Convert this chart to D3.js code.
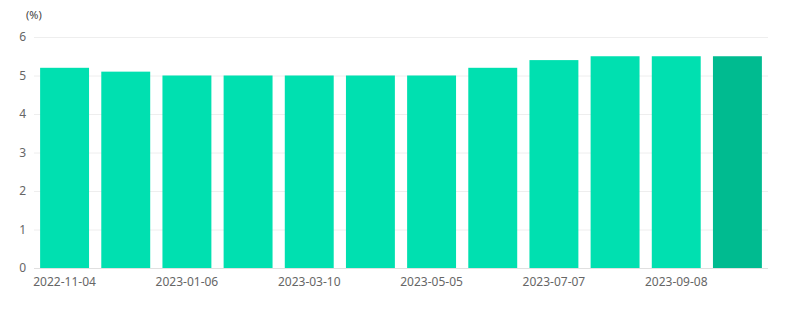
<!DOCTYPE html>
<html>
<head>
<meta charset="utf-8">
<script src="https://cdn.jsdelivr.net/npm/d3@7"></script>
<style>
  body { margin: 0; background: #fff; }
  text { font-family: "Noto Sans", "Open Sans", sans-serif; }
</style>
</head>
<body>
<div id="chart"></div>
<script>
// chart size & margins
var width = 795;
var height = 321;
var margin = { top: 37, right: 27, bottom: 53, left: 34 };

// data
var dates = ['2022-11-04', '2022-12-02', '2023-01-06', '2023-02-03', '2023-03-10', '2023-04-06',
             '2023-05-05', '2023-06-02', '2023-07-07', '2023-08-04', '2023-09-08', '2023-10-06'];
var rates = [5.2, 5.1, 5.0, 5.0, 5.0, 5.0, 5.0, 5.2, 5.4, 5.5, 5.5, 5.5];
var yTicks = [0, 1, 2, 3, 4, 5, 6];
var unitLabel = '(%)';

var barColor = '#00e0b0';
var lastColor = '#00bb90';

var svg = d3.select('#chart')
  .append('svg')
  .attr('width', width)
  .attr('height', height);

var x = d3.scaleBand()
  .domain(dates)
  .range([margin.left, width - margin.right])
  .paddingInner(0.2)
  .paddingOuter(0.1);

var y = d3.scaleLinear()
  .domain([0, 6])
  .range([height - margin.bottom, margin.top]);

// grid lines
svg.append('g')
  .selectAll('line')
  .data(yTicks.slice(1))
  .enter()
  .append('line')
    .attr('x1', margin.left)
    .attr('x2', width - margin.right)
    .attr('y1', function(d) { return y(d) + 0.5; })
    .attr('y2', function(d) { return y(d) + 0.5; })
    .attr('stroke', '#eeeeee')
    .attr('stroke-width', 1);

// y axis labels
svg.append('g')
  .selectAll('text')
  .data(yTicks)
  .enter()
  .append('text')
    .attr('x', margin.left - 8)
    .attr('y', function(d) { return y(d); })
    .attr('dy', '0.35em')
    .attr('text-anchor', 'end')
    .attr('font-size', '12px')
    .attr('fill', '#666')
    .text(function(d) { return d; });

svg.append('text')
  .attr('x', 26)
  .attr('y', 19)
  .attr('font-size', '11px')
  .attr('fill', '#444')
  .text(unitLabel);

// bars
svg.append('g')
  .selectAll('rect')
  .data(rates)
  .enter()
  .append('rect')
    .attr('x', function(d, i) { return x(dates[i]); })
    .attr('width', x.bandwidth())
    .attr('y', function(d) { return y(d); })
    .attr('height', function(d) { return y(0) - y(d); })
    .attr('fill', function(d, i) { return i === rates.length - 1 ? lastColor : barColor; });

// bottom axis line
svg.append('line')
  .attr('x1', margin.left)
  .attr('x2', width - margin.right)
  .attr('y1', y(0) + 0.5)
  .attr('y2', y(0) + 0.5)
  .attr('stroke', '#e0e0e0');

// x labels, every other date
svg.append('g')
  .selectAll('text')
  .data(dates.filter(function(d, i) { return i % 2 === 0; }))
  .enter()
  .append('text')
    .attr('x', function(d) { return x(d) + x.bandwidth() / 2; })
    .attr('y', y(0) + 18)
    .attr('text-anchor', 'middle')
    .attr('font-size', '12px')
    .attr('fill', '#666')
    .text(function(d) { return d; });
</script>
</body>
</html>
